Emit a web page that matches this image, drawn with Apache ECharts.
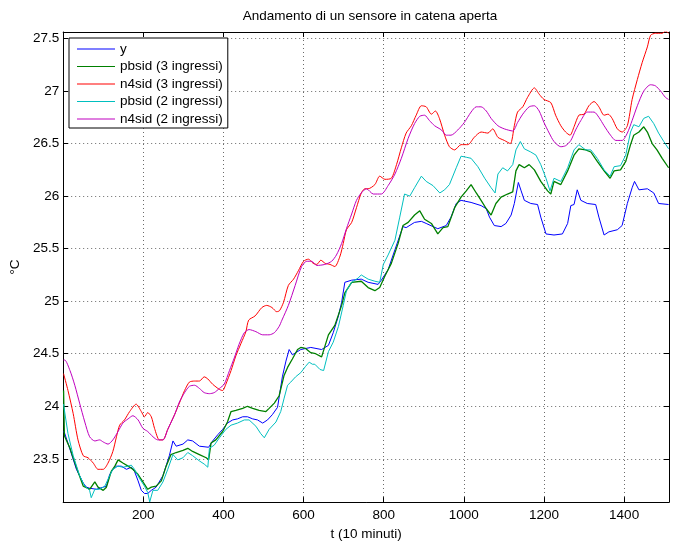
<!DOCTYPE html>
<html>
<head>
<meta charset="utf-8">
<title>Andamento di un sensore in catena aperta</title>
<script src="https://cdn.jsdelivr.net/npm/echarts@6/dist/echarts.min.js"></script>
<style>
  html, body { margin: 0; padding: 0; background: #fff; }
  #chart { width: 676px; height: 546px; }
</style>
</head>
<body>
<div id="chart"></div>
<script>
// Temperatura misurata e uscite dei modelli identificati, [t, °C]
const misura = [[1,23.76],[4,23.74],[17,23.59],[33,23.40],[50,23.27],[58,23.23],[66,23.22],[83,23.21],[100,23.23],[108,23.24],[116,23.35],[124,23.40],[133,23.43],[145,23.43],[158,23.40],[170,23.42],[178,23.38],[187,23.29],[195,23.20],[203,23.17],[211,23.17],[220,23.20],[232,23.23],[249,23.34],[265,23.53],[274,23.67],[282,23.62],[299,23.64],[311,23.68],[323,23.67],[340,23.62],[363,23.61],[373,23.67],[386,23.73],[398,23.78],[410,23.84],[423,23.87],[435,23.88],[448,23.90],[460,23.90],[473,23.88],[485,23.87],[498,23.84],[510,23.87],[522,23.92],[535,23.99],[547,24.28],[556,24.43],[564,24.54],[572,24.49],[593,24.54],[618,24.56],[645,24.54],[662,24.58],[674,24.70],[687,24.86],[695,24.99],[703,25.18],[720,25.20],[744,25.21],[761,25.18],[786,25.16],[794,25.20],[811,25.30],[828,25.49],[848,25.71],[856,25.70],[877,25.75],[894,25.76],[906,25.74],[923,25.71],[935,25.69],[956,25.72],[968,25.80],[981,25.93],[993,25.96],[1018,25.94],[1043,25.91],[1056,25.88],[1064,25.80],[1076,25.72],[1093,25.71],[1105,25.74],[1118,25.82],[1126,25.93],[1136,26.13],[1143,26.05],[1151,25.96],[1167,25.93],[1184,25.92],[1192,25.80],[1205,25.64],[1225,25.63],[1246,25.64],[1259,25.74],[1267,25.91],[1275,25.92],[1283,26.06],[1292,25.96],[1308,25.93],[1329,25.92],[1337,25.80],[1350,25.63],[1362,25.66],[1383,25.68],[1395,25.72],[1408,25.93],[1420,26.08],[1426,26.14],[1437,26.06],[1458,26.07],[1474,26.03],[1486,25.93],[1511,25.92]];

const pbsid3 = [[1,24.15],[3,23.72],[17,23.60],[33,23.42],[50,23.24],[66,23.21],[79,23.28],[87,23.23],[100,23.20],[108,23.23],[120,23.38],[129,23.43],[137,23.49],[149,23.46],[162,23.43],[174,23.40],[187,23.35],[199,23.28],[211,23.21],[220,23.23],[232,23.24],[245,23.29],[257,23.43],[269,23.54],[282,23.56],[299,23.58],[311,23.60],[323,23.57],[340,23.54],[357,23.51],[363,23.49],[369,23.65],[381,23.68],[398,23.76],[410,23.85],[419,23.95],[431,23.96],[448,23.98],[460,24.00],[473,23.98],[489,23.96],[506,23.95],[514,23.98],[527,24.03],[539,24.10],[551,24.29],[560,24.37],[572,24.45],[585,24.54],[593,24.56],[605,24.55],[618,24.51],[630,24.50],[645,24.47],[662,24.68],[678,24.77],[695,24.96],[703,25.08],[720,25.18],[744,25.19],[761,25.13],[778,25.10],[790,25.13],[803,25.24],[819,25.36],[836,25.55],[848,25.72],[861,25.75],[877,25.82],[890,25.86],[902,25.78],[919,25.74],[935,25.64],[948,25.70],[960,25.71],[977,25.89],[993,25.99],[1006,26.05],[1018,26.11],[1031,26.03],[1043,25.96],[1056,25.88],[1068,25.82],[1080,25.93],[1093,25.99],[1109,26.02],[1122,26.04],[1130,26.24],[1138,26.30],[1151,26.27],[1163,26.30],[1176,26.25],[1192,26.14],[1209,26.05],[1217,26.02],[1225,26.14],[1242,26.11],[1259,26.24],[1275,26.39],[1287,26.45],[1304,26.44],[1317,26.42],[1333,26.33],[1350,26.24],[1365,26.17],[1375,26.24],[1391,26.25],[1404,26.33],[1416,26.49],[1424,26.58],[1437,26.61],[1449,26.66],[1458,26.61],[1470,26.50],[1482,26.44],[1495,26.36],[1511,26.27]];

const n4sid3 = [[1,24.31],[12,24.15],[25,23.93],[37,23.68],[50,23.53],[62,23.51],[75,23.46],[87,23.40],[100,23.40],[112,23.46],[124,23.57],[133,23.71],[141,23.82],[153,23.87],[166,23.95],[182,24.02],[195,23.95],[203,23.90],[211,23.94],[220,23.90],[228,23.79],[240,23.68],[249,23.68],[261,23.78],[278,23.92],[290,24.03],[303,24.15],[315,24.23],[328,24.24],[340,24.24],[352,24.28],[361,24.26],[373,24.21],[390,24.16],[398,24.15],[406,24.21],[419,24.34],[431,24.48],[444,24.60],[456,24.71],[463,24.82],[479,24.86],[496,24.94],[508,24.96],[521,24.94],[533,24.90],[540,24.91],[550,24.99],[562,25.15],[575,25.21],[587,25.29],[600,25.38],[612,25.40],[624,25.36],[633,25.35],[643,25.39],[654,25.36],[666,25.35],[678,25.33],[691,25.43],[699,25.55],[707,25.68],[720,25.75],[732,25.89],[744,26.03],[753,26.07],[761,26.07],[778,26.11],[790,26.19],[803,26.16],[819,26.17],[832,26.30],[844,26.46],[856,26.60],[869,26.67],[881,26.77],[894,26.86],[906,26.85],[919,26.78],[929,26.81],[939,26.74],[952,26.58],[964,26.47],[977,26.44],[993,26.49],[1010,26.49],[1026,26.56],[1043,26.61],[1060,26.60],[1072,26.64],[1085,26.56],[1101,26.53],[1116,26.50],[1126,26.67],[1134,26.80],[1147,26.85],[1159,26.94],[1176,27.03],[1188,26.97],[1200,26.92],[1217,26.89],[1229,26.77],[1242,26.67],[1254,26.61],[1265,26.58],[1275,26.66],[1287,26.77],[1300,26.78],[1312,26.86],[1325,26.90],[1337,26.85],[1350,26.77],[1360,26.78],[1370,26.74],[1383,26.64],[1395,26.61],[1408,26.67],[1420,26.92],[1433,27.11],[1445,27.27],[1458,27.42],[1466,27.53],[1478,27.55],[1495,27.55],[1503,27.57],[1511,27.55]];

const pbsid2 = [[1,24.02],[2,23.99],[12,23.74],[25,23.53],[41,23.34],[54,23.24],[66,23.20],[70,23.13],[79,23.21],[91,23.21],[104,23.24],[116,23.34],[124,23.40],[137,23.43],[149,23.42],[162,23.43],[170,23.44],[178,23.40],[191,23.31],[203,23.24],[211,23.18],[216,23.09],[224,23.20],[236,23.20],[249,23.28],[261,23.40],[274,23.54],[286,23.49],[299,23.51],[311,23.56],[323,23.53],[340,23.48],[352,23.45],[361,23.42],[365,23.60],[377,23.63],[390,23.70],[406,23.78],[419,23.82],[435,23.84],[452,23.87],[464,23.87],[481,23.81],[493,23.74],[502,23.70],[514,23.78],[531,23.85],[543,23.95],[551,24.07],[560,24.20],[568,24.23],[580,24.28],[593,24.32],[605,24.38],[614,24.42],[622,24.40],[628,24.40],[641,24.35],[650,24.34],[662,24.52],[674,24.61],[687,24.76],[699,24.96],[707,25.10],[720,25.18],[736,25.22],[744,25.25],[761,25.21],[778,25.19],[790,25.18],[799,25.35],[811,25.44],[828,25.58],[840,25.80],[852,26.02],[865,26.00],[877,26.08],[894,26.19],[906,26.14],[923,26.10],[940,26.03],[952,26.06],[964,26.11],[981,26.27],[993,26.38],[1006,26.37],[1018,26.36],[1035,26.28],[1052,26.17],[1068,26.08],[1078,26.03],[1085,26.21],[1097,26.27],[1109,26.24],[1122,26.30],[1130,26.44],[1141,26.52],[1151,26.45],[1167,26.42],[1180,26.39],[1192,26.30],[1205,26.17],[1215,26.05],[1225,26.17],[1242,26.14],[1259,26.27],[1275,26.44],[1287,26.49],[1304,26.44],[1317,26.44],[1333,26.36],[1350,26.25],[1365,26.19],[1375,26.28],[1391,26.29],[1404,26.39],[1416,26.61],[1424,26.68],[1437,26.66],[1449,26.74],[1461,26.76],[1474,26.69],[1486,26.60],[1499,26.52],[1511,26.45]];

const n4sid2 = [[1,24.44],[4,24.44],[17,24.34],[29,24.20],[41,24.03],[54,23.85],[66,23.71],[79,23.67],[91,23.68],[100,23.66],[112,23.64],[124,23.68],[137,23.76],[149,23.84],[162,23.88],[174,23.91],[187,23.87],[199,23.79],[211,23.76],[224,23.71],[236,23.68],[249,23.68],[261,23.78],[278,23.92],[290,24.04],[303,24.13],[315,24.19],[328,24.20],[340,24.17],[352,24.13],[365,24.12],[377,24.13],[390,24.17],[402,24.21],[415,24.34],[427,24.46],[439,24.59],[452,24.70],[464,24.73],[481,24.71],[498,24.68],[514,24.68],[527,24.70],[539,24.76],[546,24.82],[562,24.96],[579,25.15],[595,25.33],[608,25.38],[620,25.38],[633,25.34],[653,25.35],[670,25.38],[682,25.44],[695,25.55],[707,25.69],[720,25.83],[732,25.96],[744,26.03],[757,26.07],[774,26.02],[794,26.02],[811,26.10],[828,26.21],[844,26.36],[861,26.55],[877,26.69],[890,26.76],[902,26.77],[914,26.72],[927,26.67],[944,26.63],[956,26.58],[968,26.58],[985,26.63],[1001,26.70],[1018,26.80],[1031,26.85],[1043,26.85],[1056,26.81],[1068,26.74],[1085,26.67],[1101,26.64],[1122,26.62],[1134,26.70],[1147,26.78],[1163,26.85],[1176,26.86],[1188,26.81],[1200,26.70],[1213,26.60],[1225,26.52],[1242,26.47],[1254,26.48],[1267,26.53],[1279,26.63],[1292,26.72],[1308,26.80],[1325,26.80],[1337,26.75],[1350,26.67],[1366,26.58],[1379,26.53],[1395,26.53],[1408,26.60],[1420,26.72],[1433,26.86],[1449,27.00],[1466,27.06],[1478,27.05],[1491,27.00],[1503,26.94],[1511,26.92]];

const seriesNames = ['y', 'pbsid (3 ingressi)', 'n4sid (3 ingressi)', 'pbsid (2 ingressi)', 'n4sid (2 ingressi)'];
const seriesData = [misura, pbsid3, n4sid3, pbsid2, n4sid2];
const seriesColors = ['#0000ff', '#008000', '#ff0000', '#00bfbf', '#bf00bf'];

const FONT = '"Liberation Sans", Arial, Helvetica, sans-serif';
const FS = 13.5;

const T_MIN = 0, T_MAX = 1512;
const Y_MIN = 23.088, Y_MAX = 27.562;

const gridDots = { show: true, lineStyle: { color: '#6a6a6a', width: 1, type: [1, 3] } };
const frameLine = { show: true, onZero: false, lineStyle: { color: '#000', width: 1 } };
const innerTick = { show: true, inside: true, length: 5, lineStyle: { color: '#000', width: 1 } };

function onStep(v, step) {
  const k = v / step;
  return Math.abs(k - Math.round(k)) < 1e-6;
}

const chart = echarts.init(document.getElementById('chart'), null, { renderer: 'canvas' });

chart.setOption({
  animation: false,
  backgroundColor: '#fff',
  textStyle: { fontFamily: FONT, color: '#000' },
  title: {
    text: 'Andamento di un sensore in catena aperta',
    left: 365,
    top: 4,
    textAlign: 'center',
    textStyle: { fontFamily: FONT, fontSize: FS, fontWeight: 'normal', color: '#000' }
  },
  grid: { left: 61, right: 7, top: 32, bottom: 36, containLabel: false },
  legend: {
    data: seriesNames,
    orient: 'vertical',
    left: 69,
    top: 38,
    padding: [4, 5, 2, 8],
    itemGap: 3.5,
    icon: 'rect',
    itemWidth: 38,
    itemHeight: 1.2,
    backgroundColor: '#fff',
    borderColor: '#000',
    borderWidth: 1,
    textStyle: { fontFamily: FONT, fontSize: FS, color: '#000' }
  },
  xAxis: [
    {
      type: 'value',
      min: T_MIN,
      max: T_MAX,
      interval: 200,
      name: 't (10 minuti)',
      nameLocation: 'middle',
      nameGap: 21,
      nameTextStyle: { fontFamily: FONT, fontSize: FS, color: '#000' },
      axisLine: frameLine,
      axisTick: innerTick,
      axisLabel: {
        margin: 6,
        fontFamily: FONT, fontSize: FS, color: '#000',
        formatter: v => (v > 0 && onStep(v, 200)) ? String(v) : ''
      },
      splitLine: gridDots
    },
    {
      type: 'value',
      position: 'top',
      min: T_MIN,
      max: T_MAX,
      interval: 200,
      axisLine: frameLine,
      axisTick: innerTick,
      axisLabel: { show: false },
      splitLine: { show: false }
    }
  ],
  yAxis: [
    {
      type: 'value',
      min: Y_MIN,
      max: Y_MAX,
      minInterval: 0.5,
      maxInterval: 0.5,
      name: '°C',
      nameLocation: 'middle',
      nameGap: 40,
      nameRotate: 90,
      nameTextStyle: { fontFamily: FONT, fontSize: FS, color: '#000' },
      axisLine: frameLine,
      axisTick: innerTick,
      axisLabel: {
        margin: 4,
        fontFamily: FONT, fontSize: FS, color: '#000',
        formatter: v => onStep(v, 0.5) ? String(+v.toFixed(1)) : ''
      },
      splitLine: gridDots
    },
    {
      type: 'value',
      position: 'right',
      min: Y_MIN,
      max: Y_MAX,
      minInterval: 0.5,
      maxInterval: 0.5,
      axisLine: frameLine,
      axisTick: innerTick,
      axisLabel: { show: false },
      splitLine: { show: false }
    }
  ],
  series: seriesNames.map((name, i) => ({
    name: name,
    type: 'line',
    xAxisIndex: 0,
    yAxisIndex: 0,
    data: seriesData[i],
    symbol: 'none',
    smooth: (i === 2 || i === 4) ? 0.25 : false,
    clip: true,
    color: seriesColors[i],
    lineStyle: { color: seriesColors[i], width: i === 1 ? 1.3 : 1 },
    emphasis: { disabled: true },
    z: 2 + i
  }))
});
</script>
</body>
</html>
